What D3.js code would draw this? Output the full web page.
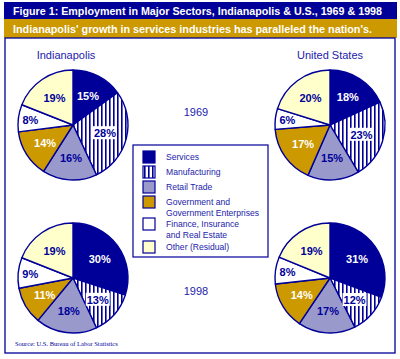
<!DOCTYPE html>
<html>
<head>
<meta charset="utf-8">
<script src="https://cdn.jsdelivr.net/npm/d3@7"></script>
<style>
  body { margin: 0; background: #fff; }
  svg { display: block; font-family: "Liberation Sans", Arial, sans-serif; }
</style>
</head>
<body>
<svg width="400" height="359"></svg>
<script>
(function () {

  // sectors, in the order the slices go round (clockwise from 12 o'clock)
  var sectors = ['Services', 'Manufacturing', 'Retail Trade',
    'Government and|Government Enterprises', 'Finance, Insurance|and Real Estate', 'Other (Residual)']

  // percent of employment
  var indy1969 = [15, 28, 16, 14, 8, 19]
  var us1969 = [18, 23, 15, 17, 6, 20]
  var indy1998 = [30, 13, 18, 11, 9, 19]
  var us1998 = [31, 12, 17, 14, 8, 19]

  var years = ['1969', '1998']
  var places = ['Indianapolis', 'United States']

  var navy = '#000099'
  var textBlue = '#2222aa'
  var fills = [navy, 'url(#stripes)', '#9999cc', '#cc9900', '#ffffff', '#ffffcc']
  var labelColors = ['#fff', navy, navy, '#fff', navy, navy]

  var svg = d3.select('svg')

  // stripe pattern for manufacturing
  var pat = svg.append('defs').append('pattern')
    .attr('id', 'stripes')
    .attr('patternUnits', 'userSpaceOnUse')
    .attr('width', 4).attr('height', 4)
  pat.append('rect').attr('width', 4).attr('height', 4).attr('fill', '#fff')
  pat.append('rect').attr('x', 0).attr('width', 1.6).attr('height', 4).attr('fill', navy)

  // header bars
  svg.append('rect').attr('x', 4).attr('y', 2).attr('width', 393).attr('height', 17).attr('fill', navy)
  svg.append('rect').attr('x', 4).attr('y', 19).attr('width', 393).attr('height', 19).attr('fill', '#cc9900')
  svg.append('text')
    .attr('x', 13).attr('y', 15)
    .attr('fill', '#fff').attr('font-size', 10).attr('font-weight', 'bold')
    .attr('textLength', 369).attr('lengthAdjust', 'spacingAndGlyphs')
    .text('Figure 1: Employment in Major Sectors, Indianapolis & U.S., 1969 & 1998')
  svg.append('text')
    .attr('x', 13).attr('y', 32.5)
    .attr('fill', '#fff').attr('font-size', 10.5).attr('font-weight', 'bold')
    .attr('textLength', 359).attr('lengthAdjust', 'spacingAndGlyphs')
    .text("Indianapolis' growth in services industries has paralleled the nation's.")

  // panel frame
  svg.append('rect').attr('x', 5).attr('y', 38).attr('width', 390).attr('height', 315)
    .attr('fill', 'none').attr('stroke', navy).attr('stroke-width', 1.3)

  // where the four pies go
  var xScale = d3.scalePoint().domain(places).range([73, 330])
  var yScale = d3.scalePoint().domain(years).range([125, 278])
  var r = 55

  var pies = [
    { place: 'Indianapolis', year: '1969', values: indy1969 },
    { place: 'United States', year: '1969', values: us1969 },
    { place: 'Indianapolis', year: '1998', values: indy1998 },
    { place: 'United States', year: '1998', values: us1998 }
  ]

  var pie = d3.pie().sort(null)
  var arc = d3.arc().innerRadius(0).outerRadius(r)
  var labelArc = d3.arc().innerRadius(r * 0.6).outerRadius(r * 0.6)
  var smallArc = d3.arc().innerRadius(r * 0.78).outerRadius(r * 0.78)

  pies.forEach(function (p) {
    var g = svg.append('g')
      .attr('transform', 'translate(' + xScale(p.place) + ',' + yScale(p.year) + ')')
    var slices = pie(p.values)

    g.selectAll('path')
      .data(slices)
      .enter().append('path')
      .attr('d', arc)
      .attr('fill', (d, i) => fills[i])
      .attr('stroke', navy)
      .attr('stroke-width', 1.4)
      .attr('stroke-linejoin', 'round')

    var labels = g.selectAll('g.lab')
      .data(slices)
      .enter().append('g')
      .attr('class', 'lab')
      .attr('transform', function (d) {
        var c = d.data < 10 ? smallArc.centroid(d) : labelArc.centroid(d)
        return 'translate(' + c[0] + ',' + c[1] + ')'
      })

    // white box behind the label sitting on the stripes
    labels.filter((d, i) => i === 1)
      .append('rect')
      .attr('x', -12).attr('y', -7).attr('width', 24).attr('height', 13)
      .attr('fill', '#fff')

    labels.append('text')
      .attr('text-anchor', 'middle')
      .attr('dy', '0.36em')
      .attr('font-size', 11)
      .attr('font-weight', 'bold')
      .attr('fill', (d, i) => labelColors[i])
      .text(d => d.data + '%')
  })

  // place names above the top pies
  svg.selectAll('text.place')
    .data(places)
    .enter().append('text')
    .attr('class', 'place')
    .attr('x', (d, i) => i === 0 ? 66 : 330)
    .attr('y', 59)
    .attr('text-anchor', 'middle')
    .attr('font-size', 11)
    .attr('fill', textBlue)
    .text(d => d)

  // years in the middle
  svg.selectAll('text.year')
    .data(years)
    .enter().append('text')
    .attr('class', 'year')
    .attr('x', 196)
    .attr('y', (d, i) => i === 0 ? 116 : 295)
    .attr('text-anchor', 'middle')
    .attr('font-size', 11)
    .attr('fill', textBlue)
    .text(d => d)

  // legend
  var legend = svg.append('g')
  legend.append('rect')
    .attr('x', 133).attr('y', 145).attr('width', 135).attr('height', 112)
    .attr('fill', '#fff').attr('stroke', navy).attr('stroke-width', 1.2)

  var rowY = [157, 172, 187, 202, 224, 247]
  var rows = legend.selectAll('g.row')
    .data(sectors)
    .enter().append('g')
    .attr('class', 'row')
    .attr('transform', (d, i) => 'translate(0,' + rowY[i] + ')')

  rows.append('rect')
    .attr('x', 143).attr('y', -6).attr('width', 12).attr('height', 12)
    .attr('fill', (d, i) => fills[i])
    .attr('stroke', navy).attr('stroke-width', 1.2)

  rows.append('text')
    .attr('x', 166)
    .attr('font-size', 8.6)
    .attr('fill', textBlue)
    .selectAll('tspan')
    .data(d => d.split('|'))
    .enter().append('tspan')
    .attr('x', 166)
    .attr('y', (d, i) => i * 11)
    .attr('dy', '0.35em')
    .text(d => d)

  // source note
  svg.append('text')
    .attr('x', 15).attr('y', 346)
    .attr('font-family', '"Liberation Serif", "Times New Roman", serif')
    .attr('font-size', 6.5)
    .attr('fill', navy)
    .text('Source: U.S. Bureau of Labor Statistics')

})()
</script>
</body>
</html>
